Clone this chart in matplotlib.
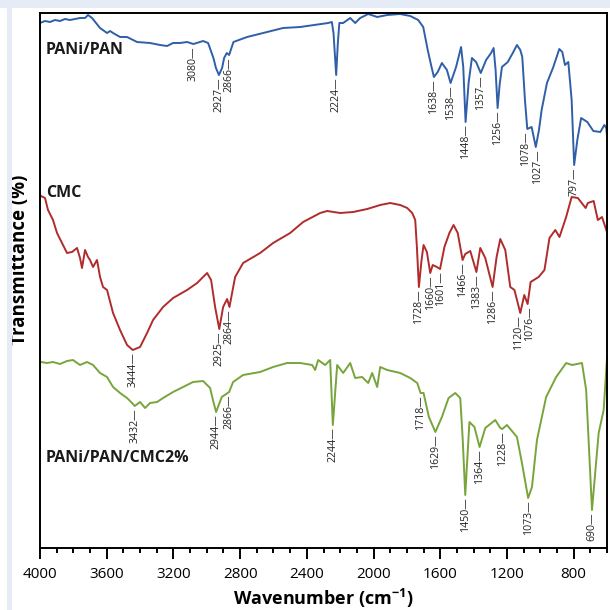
import numpy as np
import matplotlib
matplotlib.use("Agg")
import matplotlib.pyplot as plt
from matplotlib.patches import Rectangle
from matplotlib.ticker import MultipleLocator
from matplotlib.transforms import offset_copy

plt.rcParams['font.family'] = ['Open Sans', 'DejaVu Sans']
plt.rcParams['mathtext.fontset'] = 'custom'
plt.rcParams['mathtext.rm'] = 'Open Sans'
plt.rcParams['mathtext.default'] = 'regular'

# ---------------- data (wavenumber cm-1, transmittance a.u. with offsets) ----------------
pan_wn = [4000, 3970, 3940, 3910, 3880, 3850, 3820, 3790, 3760, 3730, 3712, 3688, 3640, 3598, 3580, 3562,
          3520, 3478, 3418, 3340, 3280, 3238, 3202, 3160, 3118, 3080, 3022, 2992, 2960, 2945, 2927, 2908,
          2896, 2880, 2866, 2840, 2758, 2638, 2542, 2440, 2272, 2250, 2240, 2224, 2214, 2205, 2182, 2140,
          2110, 2080, 2032, 1978, 1918, 1840, 1780, 1732, 1702, 1675, 1655, 1638, 1615, 1590, 1560, 1538,
          1505, 1475, 1462, 1448, 1430, 1410, 1385, 1357, 1325, 1295, 1280, 1268, 1256, 1244, 1230, 1195,
          1165, 1140, 1120, 1108, 1092, 1078, 1052, 1027, 1008, 992, 960, 922, 886, 868, 852, 832, 812,
          797, 778, 755, 718, 682, 640, 616, 604, 600]
pan_t = [525, 527, 526, 528, 527, 529, 528, 529, 530, 530, 533, 530, 520, 515, 517, 515,
         511, 511, 506, 505, 503, 502, 505, 505, 506, 504, 507, 505, 490, 480, 473, 480,
         490, 495, 493, 506, 511, 516, 520, 521, 525, 526, 515, 473, 505, 525, 525, 530,
         525, 530, 534, 531, 533, 534, 532, 528, 521, 498, 483, 471, 476, 485, 478, 465,
         481, 501, 481, 426, 465, 490, 486, 475, 488, 495, 500, 478, 440, 463, 481, 486,
         495, 503, 498, 491, 448, 419, 421, 401, 418, 438, 465, 481, 499, 496, 483, 486, 448,
         383, 408, 430, 426, 417, 416, 423, 420, 412]
pan_peaks = [3080, 2927, 2866, 2224, 1638, 1538, 1448, 1357, 1256, 1078, 1027, 797]

cmc_wn = [3994, 3970, 3952, 3922, 3898, 3868, 3838, 3808, 3778, 3760, 3748, 3730, 3712, 3700, 3682, 3658,
          3640, 3622, 3598, 3562, 3520, 3478, 3444, 3400, 3358, 3322, 3262, 3202, 3118, 3058, 2998, 2974,
          2950, 2925, 2902, 2878, 2864, 2830, 2782, 2680, 2602, 2500, 2422, 2320, 2278, 2200, 2122, 2038,
          1960, 1900, 1840, 1798, 1768, 1750, 1740, 1728, 1712, 1700, 1680, 1660, 1645, 1620, 1601, 1575,
          1545, 1520, 1495, 1466, 1450, 1420, 1383, 1360, 1330, 1286, 1262, 1240, 1210, 1180, 1155, 1120,
          1096, 1076, 1058, 1010, 975, 945, 910, 885, 845, 812, 775, 728, 715, 680, 655, 630, 608, 600]
cmc_t = [352, 350, 338, 328, 315, 305, 295, 296, 300, 290, 280, 298, 291, 288, 281, 288,
         271, 261, 258, 235, 218, 203, 198, 201, 215, 228, 241, 250, 258, 265, 275, 268,
         241, 219, 241, 249, 241, 271, 285, 295, 305, 315, 326, 335, 337, 335, 336, 339,
         343, 345, 343, 340, 335, 328, 301, 261, 288, 303, 296, 275, 283, 281, 279, 301,
         315, 323, 315, 288, 294, 297, 276, 300, 290, 261, 291, 309, 298, 261, 258, 235,
         253, 244, 266, 271, 278, 310, 318, 311, 331, 351, 350, 340, 345, 347, 328, 331, 320, 316]
cmc_peaks = [3444, 2925, 2864, 1728, 1660, 1601, 1466, 1383, 1286, 1120, 1076]

blend_wn = [3994, 3958, 3922, 3880, 3838, 3802, 3760, 3718, 3682, 3640, 3598, 3562, 3520, 3478, 3448, 3432,
            3400, 3370, 3340, 3298, 3262, 3202, 3142, 3082, 3022, 2980, 2960, 2944, 2910, 2866, 2842, 2782,
            2680, 2602, 2518, 2440, 2368, 2350, 2332, 2290, 2260, 2244, 2218, 2182, 2140, 2110, 2068, 2032,
            2008, 1978, 1960, 1918, 1840, 1780, 1738, 1718, 1700, 1668, 1629, 1590, 1550, 1510, 1480, 1465,
            1450, 1425, 1395, 1364, 1330, 1270, 1240, 1228, 1200, 1140, 1110, 1073, 1050, 1020, 965, 905,
            845, 810, 750, 725, 690, 650, 620, 600]
blend_t = [186, 185, 186, 184, 187, 188, 183, 186, 183, 175, 171, 161, 155, 150, 145, 142,
           146, 140, 145, 146, 150, 156, 161, 166, 167, 160, 146, 136, 151, 156, 166, 173,
           176, 181, 185, 185, 183, 178, 188, 183, 188, 123, 183, 175, 185, 170, 171, 165,
           175, 161, 181, 178, 175, 170, 165, 155, 155, 131, 116, 131, 150, 155, 150, 108,
           53, 126, 121, 101, 120, 128, 120, 119, 123, 111, 85, 50, 61, 108, 151, 171,
           185, 183, 185, 158, 38, 115, 138, 190]
blend_peaks = [3432, 2944, 2866, 2244, 1718, 1629, 1450, 1364, 1228, 1073, 690]

series = [
    ("PANi/PAN", pan_wn, pan_t, pan_peaks, "#2f5fa8", 498),
    ("CMC", cmc_wn, cmc_t, cmc_peaks, "#b02c2c", 355),
    ("PANi/PAN/CMC2%", blend_wn, blend_t, blend_peaks, "#78a53b", 90),
]
# small horizontal nudges (points) for crowded peak labels
nudge = {("PANi/PAN", 1078): -1.2, ("PANi/PAN", 1027): 1.0,
         ("CMC", 1120): -1.5, ("CMC", 1076): 1.5}

# ---------------- figure ----------------
fig = plt.figure(figsize=(6.1, 6.1), dpi=100)
fig.patches.append(Rectangle((0, 1 - 8 / 610), 1, 8 / 610, transform=fig.transFigure,
                             facecolor="#e6ecf5", edgecolor="none", zorder=0))
fig.patches.append(Rectangle((7 / 610, 0), 5 / 610, 1 - 8 / 610, transform=fig.transFigure,
                             facecolor="#e6ecf5", edgecolor="none", zorder=0))

ax = fig.add_axes([40 / 610, 62 / 610, 567 / 610, 535 / 610])
ax.set_xlim(4000, 600)
ax.set_ylim(0, 535)

for name, wn, t, peaks, color, label_y in series:
    wn = np.asarray(wn, float)
    t = np.asarray(t, float)
    ax.plot(wn, t, color=color, lw=1.4, solid_joinstyle="round")
    order = np.argsort(wn)
    for p in peaks:
        yv = np.interp(p, wn[order], t[order])
        tr = offset_copy(ax.transData, fig=fig, x=nudge.get((name, p), 0), y=-1.5, units="points")
        ax.text(p, yv, f"{p}\u2014", rotation=90, ha="center", va="top",
                fontsize=7.6, color="#222222", transform=tr)
    ax.text(3966, label_y, name, fontsize=11.5, fontweight="bold", ha="left", va="center",
            color="#1a1a1a")

ax.xaxis.set_major_locator(MultipleLocator(400))
ax.xaxis.set_minor_locator(MultipleLocator(100))
ax.set_yticks([])
ax.tick_params(axis="x", which="major", direction="out", length=8, width=1.4, labelsize=11, pad=6)
ax.tick_params(axis="x", which="minor", direction="out", length=3.5, width=1.4)
for s in ax.spines.values():
    s.set_linewidth(1.4)
    s.set_color("black")

ax.set_xlabel("Wavenumber (cm$^{-1}$)", fontsize=13, fontweight="bold", labelpad=3)
ax.set_ylabel("Transmittance (%)", fontsize=13.5, fontweight="bold", va="center")
ax.yaxis.set_label_coords(-0.035, 0.539)

fig.savefig("out.png", dpi=100)
